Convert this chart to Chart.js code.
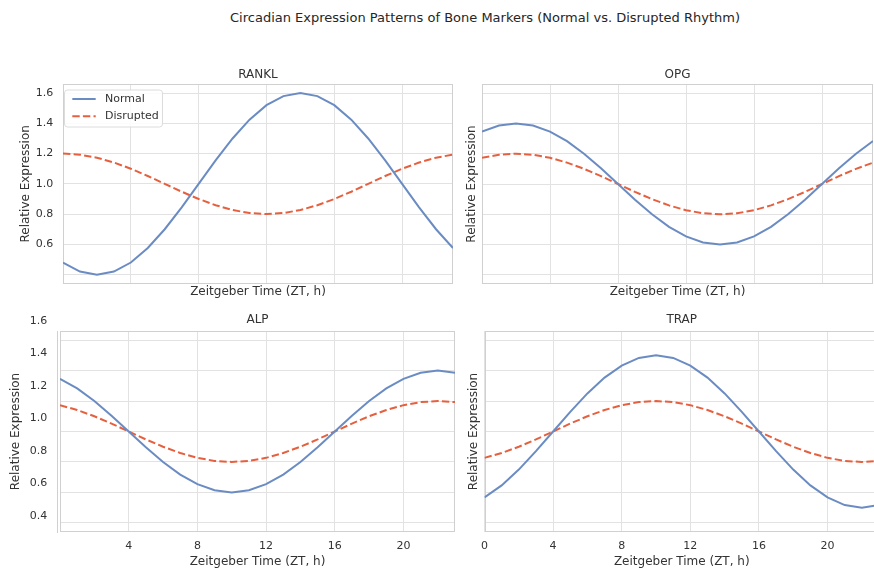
<!DOCTYPE html>
<html>
<head>
<meta charset="utf-8">
<script src="https://cdn.jsdelivr.net/npm/chart.js@4.4.0/dist/chart.umd.min.js"></script>
<style>
html,body{margin:0;padding:0;background:#fff;overflow:hidden;width:874px;height:568px;position:relative;}
#suptitle{position:absolute;left:0;width:970px;top:10px;line-height:16px;text-align:center;font-family:"DejaVu Sans";font-size:13px;color:#262626;white-space:nowrap;}
canvas{position:absolute;}
</style>
</head>
<body>
<div id="suptitle">Circadian Expression Patterns of Bone Markers (Normal vs. Disrupted Rhythm)</div>
<canvas id="cRANKL" width="460" height="240" style="left:0px;top:60px"></canvas>
<canvas id="cOPG" width="414" height="240" style="left:460px;top:60px"></canvas>
<canvas id="cALP" width="460" height="268" style="left:0px;top:300px"></canvas>
<canvas id="cTRAP" width="420" height="268" style="left:460px;top:300px"></canvas>
<script>
// ---------- data ----------
const HOURS = [0,1,2,3,4,5,6,7,8,9,10,11,12,13,14,15,16,17,18,19,20,21,22,23];
const X_TICKS = [0,4,8,12,16,20];
const Y_TICKS = [0.4,0.6,0.8,1.0,1.2,1.4,1.6];
const SERIES_LABELS = ['Normal','Disrupted'];

const RANKL_NORMAL    = [0.480,0.420,0.400,0.420,0.480,0.576,0.700,0.845,1.000,1.155,1.300,1.424,1.520,1.580,1.600,1.580,1.520,1.424,1.300,1.155,1.000,0.845,0.700,0.576];
const RANKL_DISRUPTED = [1.200,1.193,1.173,1.141,1.100,1.052,1.000,0.948,0.900,0.859,0.827,0.807,0.800,0.807,0.827,0.859,0.900,0.948,1.000,1.052,1.100,1.141,1.173,1.193];

const OPG_NORMAL      = [1.346,1.386,1.400,1.386,1.346,1.283,1.200,1.104,1.000,0.896,0.800,0.717,0.654,0.614,0.600,0.614,0.654,0.717,0.800,0.896,1.000,1.104,1.200,1.283];
const OPG_DISRUPTED   = [1.173,1.193,1.200,1.193,1.173,1.141,1.100,1.052,1.000,0.948,0.900,0.859,0.827,0.807,0.800,0.807,0.827,0.859,0.900,0.948,1.000,1.052,1.100,1.141];

const ALP_NORMAL      = [1.346,1.283,1.200,1.104,1.000,0.896,0.800,0.717,0.654,0.614,0.600,0.614,0.654,0.717,0.800,0.896,1.000,1.104,1.200,1.283,1.346,1.386,1.400,1.386];
const ALP_DISRUPTED   = [1.173,1.141,1.100,1.052,1.000,0.948,0.900,0.859,0.827,0.807,0.800,0.807,0.827,0.859,0.900,0.948,1.000,1.052,1.100,1.141,1.173,1.193,1.200,1.193];

const TRAP_NORMAL     = [0.567,0.646,0.750,0.871,1.000,1.129,1.250,1.354,1.433,1.483,1.500,1.483,1.433,1.354,1.250,1.129,1.000,0.871,0.750,0.646,0.567,0.517,0.500,0.517];
const TRAP_DISRUPTED  = [0.827,0.859,0.900,0.948,1.000,1.052,1.100,1.141,1.173,1.193,1.200,1.193,1.173,1.141,1.100,1.052,1.000,0.948,0.900,0.859,0.827,0.807,0.800,0.807];

// ---------- styling ----------
const FONT = 'DejaVu Sans';
const TEXT = '#333333';
const GRID = '#e2e2e2';
const FRAME = '#d0d0d0';
const BLUE = '#6b8cc3';
const RED = '#e6603f';
const DASH = [7.4, 3.2];
const X_MIN = 0, X_MAX = 23, Y_MIN = 0.34, Y_MAX = 1.66;

Chart.defaults.font.family = FONT;
Chart.defaults.color = TEXT;

const framePlugin = {
  id: 'frame',
  beforeDatasetsDraw(chart) {
    const {ctx, chartArea: a} = chart;
    ctx.save();
    ctx.strokeStyle = FRAME;
    ctx.lineWidth = 1;
    ctx.strokeRect(Math.round(a.left) + 0.5, Math.round(a.top) + 0.5,
                   Math.round(a.right) - Math.round(a.left) - 1, Math.round(a.bottom) - Math.round(a.top) - 1);
    ctx.restore();
  }
};

const innerLegend = {
  id: 'innerLegend',
  afterDatasetsDraw(chart, args, opts) {
    if (!opts.show) return;
    const {ctx, chartArea: a} = chart;
    const x0 = a.left + 1.5, y0 = a.top + 6, w = 98, h = 37, r = 3;
    ctx.save();
    ctx.beginPath();
    ctx.moveTo(x0 + r, y0);
    ctx.arcTo(x0 + w, y0, x0 + w, y0 + h, r);
    ctx.arcTo(x0 + w, y0 + h, x0, y0 + h, r);
    ctx.arcTo(x0, y0 + h, x0, y0, r);
    ctx.arcTo(x0, y0, x0 + w, y0, r);
    ctx.closePath();
    ctx.fillStyle = 'rgba(255,255,255,0.85)';
    ctx.fill();
    ctx.strokeStyle = '#dcdcdc';
    ctx.lineWidth = 1;
    ctx.stroke();
    chart.data.datasets.forEach((ds, i) => {
      const yy = a.top + 15 + i * 17.3;
      ctx.beginPath();
      ctx.setLineDash(ds.borderDash || []);
      ctx.strokeStyle = ds.borderColor;
      ctx.lineWidth = ds.borderWidth;
      ctx.moveTo(a.left + 9.3, yy);
      ctx.lineTo(a.left + 32.7, yy);
      ctx.stroke();
      ctx.setLineDash([]);
      ctx.fillStyle = TEXT;
      ctx.font = '11px "' + FONT + '"';
      ctx.textBaseline = 'middle';
      ctx.textAlign = 'left';
      ctx.fillText(ds.label, a.left + 42, yy);
    });
    ctx.restore();
  }
};

function makeDatasets(normal, disrupted) {
  return [
    {label: SERIES_LABELS[0], data: HOURS.map((h, i) => ({x: h, y: normal[i]})), xAxisID: 'x', yAxisID: 'y',
     borderColor: BLUE, borderWidth: 2, pointRadius: 0, tension: 0, fill: false},
    {label: SERIES_LABELS[1], data: HOURS.map((h, i) => ({x: h, y: disrupted[i]})), xAxisID: 'x', yAxisID: 'y',
     borderColor: RED, borderWidth: 2, borderDash: DASH, pointRadius: 0, tension: 0, fill: false}
  ];
}

function makePanel(p) {
  const H = p.xTitleCY + 6 - p.area.B;
  const bottomPad = p.top + p.height - p.area.B - H;
  const topH = p.area.T - p.top;
  const yWidth = p.area.L - p.left;

  const scales = {
    x: {
      type: 'linear', position: 'bottom', min: X_MIN, max: X_MAX,
      afterBuildTicks: s => { s.ticks = X_TICKS.map(v => ({value: v})); },
      afterFit: s => { s.height = H; },
      grid: {display: true, color: GRID, lineWidth: 1, drawTicks: false},
      border: {display: false},
      ticks: {
        display: p.xLabels, padding: 7.4, color: TEXT, font: {size: 11},
        maxRotation: 0, autoSkip: false,
        callback: v => (p.hideX0 && v === 0) ? '' : String(v)
      },
      title: {display: true, text: 'Zeitgeber Time (ZT, h)', color: TEXT,
              font: {size: 12, lineHeight: 1}, padding: {top: 0, bottom: 0}}
    },
    xTop: {
      type: 'linear', position: 'top', min: X_MIN, max: X_MAX,
      afterFit: s => { s.height = topH; },
      grid: {display: false, drawTicks: false},
      border: {display: false},
      ticks: {display: false},
      title: {display: true, text: p.title, color: TEXT,
              font: {size: 12, lineHeight: 1}, padding: {top: p.titleCY - p.top - 6, bottom: 0}}
    },
    y: {
      type: 'linear', min: Y_MIN, max: Y_MAX, weight: 0,
      afterBuildTicks: s => { s.ticks = Y_TICKS.map(v => ({value: v})); },
      afterFit: s => { s.width = p.alpAxis ? 2.3 : yWidth; },
      grid: {display: true, color: GRID, lineWidth: 1, drawTicks: false},
      border: {display: false},
      ticks: {
        display: p.yLabels, padding: 9.7, color: TEXT, font: {size: 11},
        callback: v => (p.hideY04 && Math.abs(v - 0.4) < 1e-6) ? '' : v.toFixed(1)
      },
      title: {display: !p.alpAxis, text: 'Relative Expression', color: TEXT,
              font: {size: 12, lineHeight: 1}, padding: {top: p.yTitleCX - p.left - 6, bottom: 0}}
    }
  };
  if (p.alpAxis) {
    scales.y2 = {
      type: 'linear', position: 'left', min: 0.3754, max: 1.6104, weight: 1,
      afterBuildTicks: s => { s.ticks = Y_TICKS.map(v => ({value: v})); },
      afterFit: s => { s.width = yWidth - 2.3; },
      grid: {display: false, drawTicks: false},
      border: {display: true, color: FRAME, width: 1},
      ticks: {display: true, padding: 10.4, labelOffset: -12, color: TEXT, font: {size: 11},
              callback: v => v.toFixed(1)},
      title: {display: true, text: 'Relative Expression', color: TEXT,
              font: {size: 12, lineHeight: 1}, padding: {top: p.yTitleCX - p.left - 6, bottom: 0}}
    };
  }

  return new Chart(document.getElementById(p.id), {
    type: 'line',
    data: {datasets: makeDatasets(p.normal, p.disrupted)},
    options: {
      responsive: false, animation: false, devicePixelRatio: 1,
      layout: {padding: {left: 0, top: 0, right: p.left + p.width - p.area.R, bottom: bottomPad}},
      plugins: {
        legend: {display: false},
        tooltip: {enabled: false},
        title: {display: false},
        innerLegend: {show: !!p.legend}
      },
      scales
    },
    plugins: [framePlugin, innerLegend]
  });
}

makePanel({id: 'cRANKL', title: 'RANKL', left: 0, top: 60, width: 460, height: 240,
  area: {L: 63, T: 84, R: 453, B: 284}, titleCY: 75, xTitleCY: 292.3, yTitleCX: 26,
  xLabels: false, yLabels: true, hideY04: true, legend: true,
  normal: RANKL_NORMAL, disrupted: RANKL_DISRUPTED});

makePanel({id: 'cOPG', title: 'OPG', left: 460, top: 60, width: 414, height: 240,
  area: {L: 482, T: 84, R: 873, B: 284}, titleCY: 75, xTitleCY: 292.3, yTitleCX: 471.7,
  xLabels: false, yLabels: false,
  normal: OPG_NORMAL, disrupted: OPG_DISRUPTED});

makePanel({id: 'cALP', title: 'ALP', left: 0, top: 300, width: 460, height: 268,
  area: {L: 60, T: 331, R: 455, B: 532}, titleCY: 320, xTitleCY: 562, yTitleCX: 16,
  xLabels: true, hideX0: true, yLabels: false, alpAxis: true,
  normal: ALP_NORMAL, disrupted: ALP_DISRUPTED});

makePanel({id: 'cTRAP', title: 'TRAP', left: 460, top: 300, width: 420, height: 268,
  area: {L: 484.5, T: 331, R: 879, B: 532}, titleCY: 320, xTitleCY: 562, yTitleCX: 474.3,
  xLabels: true, yLabels: false,
  normal: TRAP_NORMAL, disrupted: TRAP_DISRUPTED});
</script>
</body>
</html>
